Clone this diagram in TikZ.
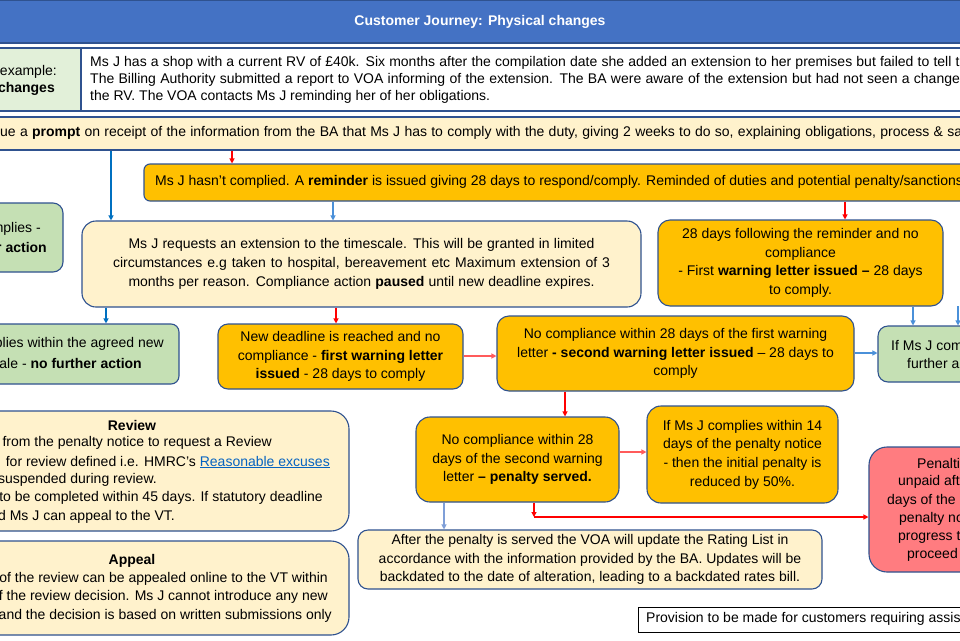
\documentclass[tikz,border=0pt]{standalone}
\usepackage{fontspec}
\setmainfont{Liberation Sans}
\usetikzlibrary{arrows.meta}
\definecolor{titleblue}{HTML}{4472C4}
\definecolor{bordblue}{HTML}{2F528F}
\definecolor{orangebox}{HTML}{FFC000}
\definecolor{lyellow}{HTML}{FFF2CC}
\definecolor{greenbox}{HTML}{C5E0B4}
\definecolor{lgreen}{HTML}{E2F0D9}
\definecolor{pinkbox}{HTML}{FF7C80}
\definecolor{arrblue}{HTML}{0070C0}
\definecolor{arrbluetwo}{HTML}{4A90D9}
\definecolor{arrbluethree}{HTML}{7F9FD8}
\definecolor{arrred}{HTML}{FF0000}
\definecolor{arrlred}{HTML}{FF5B5B}
\definecolor{linkblue}{HTML}{0563C1}
\newcommand{\jl}[2]{\makebox[#1][s]{#2}}
\begin{document}
\begin{tikzpicture}[x=1pt,y=-1pt,
  every node/.style={font=\fontsize{14}{18.7}\selectfont, inner sep=0pt, text=black},
  box/.style={draw=bordblue, line width=1.1pt, align=center},
  obox/.style={box, fill=orangebox},
  ybox/.style={box, fill=lyellow},
  gbox/.style={box, fill=greenbox},
  txt/.style={anchor=west},
  txe/.style={anchor=east},
  arr/.style={line width=1.1pt, -{Triangle[length=5pt,width=5pt]}},
  redarr/.style={arr, draw=arrred, -{Triangle[length=5pt,width=5pt,fill=arrred]}},
  lredarr/.style={arr, draw=arrlred, -{Triangle[length=5pt,width=5pt,fill=arrlred]}},
  bluearr/.style={arr, draw=arrblue, -{Triangle[length=5pt,width=5pt,fill=arrblue]}},
  bluearrtwo/.style={arr, draw=arrbluetwo, -{Triangle[length=5pt,width=5pt,fill=arrbluetwo]}},
  bluearrthree/.style={arr, draw=arrbluethree, -{Triangle[length=5pt,width=5pt,fill=arrbluethree]}}
]
\useasboundingbox (0,0) rectangle (960,640);
\clip (0,0) rectangle (960,640);
\fill[white] (0,0) rectangle (960,640);

% title
\node[box, fill=titleblue, minimum width=970pt, minimum height=43pt, text=white] (title) at (480,21.5) {\textbf{Customer Journey: Physical changes}};

% example row
\node[box, fill=lgreen, minimum width=91pt, minimum height=63pt] (exL) at (35.5,79.5) {};
\node[txe] (exLa) at (57,72) {example:};
\node[txe] (exLb) at (55,89) {\textbf{changes}};
\node[box, fill=white, minimum width=894pt, minimum height=63pt] (exR) at (528,79.5) {};
\node[txt] (exR1) at (90,63) {\jl{885pt}{Ms J has a shop with a current RV of £40k. Six months after the compilation date she added an extension to her premises but failed to tell the}};
\node[txt] (exR2) at (90,80) {\jl{885pt}{The Billing Authority submitted a report to VOA informing of the extension. The BA were aware of the extension but had not seen a change in}};
\node[txt] (exR3) at (90,97) {the RV. The VOA contacts Ms J reminding her of her obligations.};

% prompt bar
\node[box, fill=lyellow, minimum width=985pt, minimum height=33pt] (prompt) at (482.5,133.5) {};
\node[txt] (promptt) at (0,133) {\jl{962pt}{ue a \textbf{prompt} on receipt of the information from the BA that Ms J has to comply with the duty, giving 2 weeks to do so, explaining obligations, process \& sa}};

% reminder
\node[obox, rounded corners=6pt, minimum width=831pt, minimum height=37pt] (reminder) at (559.5,182.5) {};
\node[txt] (remt) at (155,182) {Ms J hasn’t complied. A \textbf{reminder} is issued giving 28 days to respond/comply.  Reminded of duties and potential penalty/sanctions};

% green left top
\node[gbox, rounded corners=10pt, minimum width=83pt, minimum height=69pt] (gl1) at (21.5,237.5) {};
\node[txe] (gl1a) at (41,229) {mplies -};
\node[txe] (gl1b) at (47,247) {\textbf{r action}};

% extension
\node[ybox, rounded corners=14pt, minimum width=559pt, minimum height=86pt] (ext) at (361.5,264)
 {\jl{466pt}{Ms J requests an extension to the timescale. This will be granted in limited}\\
  \jl{497pt}{circumstances e.g taken to hospital, bereavement etc  Maximum extension of 3}\\
  \jl{466pt}{months per reason. Compliance action \textbf{paused} until new deadline expires.}};

% 28 days
\node[obox, rounded corners=12pt, minimum width=285pt, minimum height=86pt] (day28) at (800.5,263)
 {28 days following the reminder and no\\compliance\\- First \textbf{warning letter issued –} 28 days\\to comply.};

% green left lower
\node[gbox, rounded corners=8pt, minimum width=199pt, minimum height=60pt] (gl2) at (79.5,354) {};
\node[txe] (gl2a) at (164,344) {plies within the agreed new};
\node[txe] (gl2b) at (142,363) {ale - \textbf{no further action}};

% new deadline
\node[obox, rounded corners=10pt, minimum width=245pt, minimum height=65pt] (newdl) at (340.5,356.5)
 {New deadline is reached and no\\compliance - \textbf{first warning letter}\\\textbf{issued} - 28 days to comply};

% second warning
\node[obox, rounded corners=12pt, minimum width=357pt, minimum height=75pt] (second) at (675.5,353.5)
 {No compliance within 28 days of the first warning\\letter  \textbf{- second warning letter issued} – 28 days to\\comply};

% green right
\node[gbox, rounded corners=10pt, minimum width=112pt, minimum height=56pt] (gr) at (934,354) {};
\node[txt] (gra) at (891,345) {If Ms J com};
\node[txt] (grb) at (907,363) {further  a};

% review
\node[ybox, rounded corners=18pt, minimum width=379pt, minimum height=120pt] (review) at (159.5,471) {};
\node (revh) at (132,425) {\textbf{Review}};
\node[txe] (rev1) at (272,443) {from the penalty notice to request a Review};
\node[txe] (rev2) at (330,462) {for review defined i.e. HMRC’s \textcolor{linkblue}{\underline{Reasonable excuses}}};
\node[txe] (rev3) at (157,480) {suspended during review.};
\node[txe] (rev4) at (323,498) {to be completed within 45 days. If statutory deadline};
\node[txe] (rev5) at (175,517) {d Ms J can appeal to the VT.};

% appeal
\node[ybox, rounded corners=18pt, minimum width=379pt, minimum height=94pt] (appeal) at (159.5,588) {};
\node (apph) at (132,561) {\textbf{Appeal}};
\node[txe] (app1) at (328,579) {of the review can be appealed online to the VT within};
\node[txe] (app2) at (328,597) {f the review decision. Ms J cannot introduce any new};
\node[txe] (app3) at (332,616) {and the decision is based on written  submissions only};

% penalty served
\node[obox, rounded corners=14pt, minimum width=203pt, minimum height=85pt] (penalty) at (517.5,459.5)
 {No compliance within 28\\days of the second warning\\letter \textbf{– penalty served.}};

% 14 days
\node[obox, rounded corners=14pt, minimum width=191pt, minimum height=97pt] (days14) at (742.5,454.5)
 {If Ms J complies within 14\\days of the penalty notice\\- then the initial penalty is\\reduced by 50\%.};

% after penalty
\node[ybox, rounded corners=10pt, minimum width=464pt, minimum height=59pt] (after) at (590,559.5)
 {After the penalty is served the VOA will update the Rating List in\\accordance with the information provided by the BA. Updates will be\\backdated to the date of alteration, leading to a backdated rates bill.};

% red box
\node[box, fill=pinkbox, rounded corners=18pt, minimum width=121pt, minimum height=125pt] (redbox) at (929.5,509.5) {};
\node[txt] (rb1) at (917,463) {Penalti};
\node[txt] (rb2) at (898,482) {unpaid aft};
\node[txt] (rb3) at (887,501) {days of the};
\node[txt] (rb4) at (899,519) {penalty  no};
\node[txt] (rb5) at (898,537) {progress t};
\node[txt] (rb6) at (907,555) {proceed};

% provision
\node[draw=black, line width=1pt, fill=white, minimum width=337pt, minimum height=25pt] (prov) at (806.5,619.5) {};
\node[txt] (provt) at (646,619) {Provision to be made for customers  requiring assis};

% helper coordinates
\coordinate (c232) at (232,0);
\coordinate (c111) at (111,0);
\coordinate (c333) at (333,0);
\coordinate (c845) at (845,0);
\coordinate (c106) at (106,0);
\coordinate (c336) at (336,0);
\coordinate (c913) at (913,0);
\coordinate (c958) at (958,306);
\coordinate (c565) at (565,0);
\coordinate (c444) at (444,0);
\coordinate (y356) at (0,356);
\coordinate (y353) at (0,353);
\coordinate (y452) at (0,452);
\coordinate (rc) at (534,517);

% connectors
\draw[redarr] (prompt.south -| c232) -- (reminder.north -| c232);
\draw[bluearr] (prompt.south -| c111) -- (ext.north -| c111);
\draw[bluearrtwo] (reminder.south -| c333) -- (ext.north -| c333);
\draw[redarr] (reminder.south -| c845) -- (day28.north -| c845);
\draw[bluearr] (ext.south -| c106) -- (gl2.north -| c106);
\draw[redarr] (ext.south -| c336) -- (newdl.north -| c336);
\draw[lredarr] (newdl.east |- y356) -- (second.west |- y356);
\draw[bluearrtwo] (second.east |- y353) -- (gr.west |- y353);
\draw[bluearrtwo] (day28.south -| c913) -- (gr.north -| c913);
\draw[bluearrtwo] (c958) -- (gr.north -| c958);
\draw[redarr] (second.south -| c565) -- (penalty.north -| c565);
\draw[lredarr] (penalty.east |- y452) -- (days14.west |- y452);
\draw[bluearrthree] (penalty.south -| c444) -- (after.north -| c444);
\draw[redarr] (penalty.south -| rc) -- (rc);
\draw[redarr] (rc) -- (redbox.west |- rc);
\end{tikzpicture}
\end{document}
